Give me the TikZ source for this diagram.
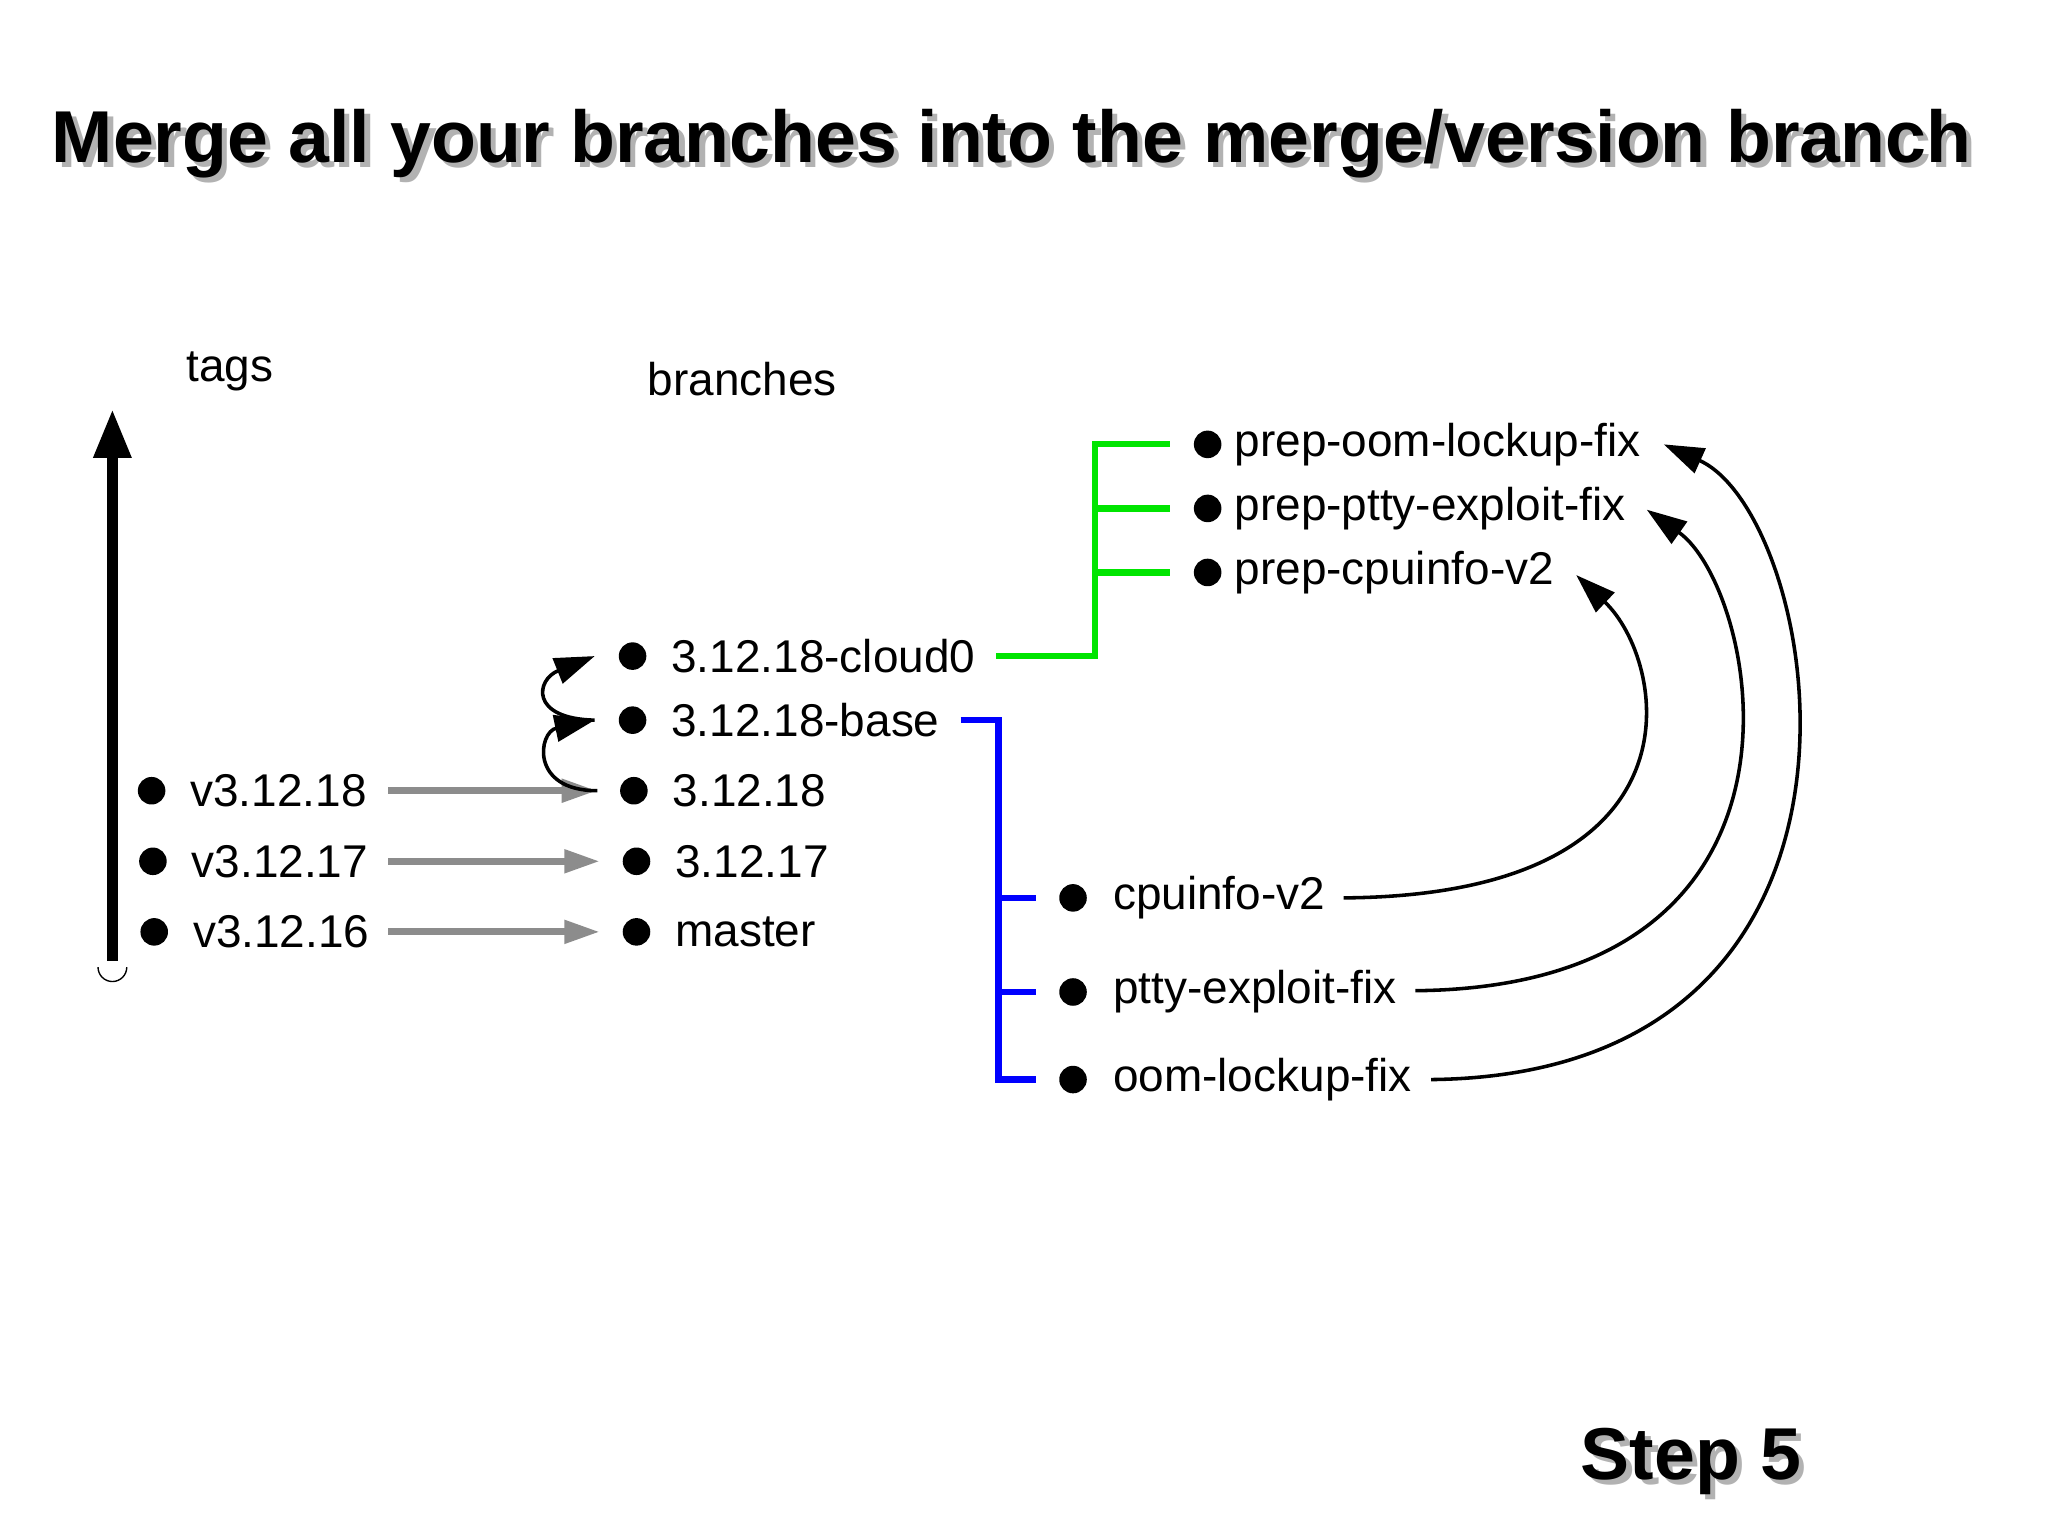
\documentclass[tikz,border=0pt]{standalone}
\usepackage{fontspec}
\setmainfont{Liberation Sans}
\usetikzlibrary{arrows.meta}
\begin{document}
\begin{tikzpicture}[x=0.1mm,y=-0.1mm,
  lbl/.style={anchor=west,inner sep=0pt,font=\fontsize{10}{12}\selectfont},
  dot/.style={circle,fill=black,inner sep=0pt,minimum size=6.2mm*0.34},
  garr/.style={draw=gray!90,line width=1.6mm*0.34,-{Triangle[width=5mm*0.34,length=8mm*0.34]}},
  carr/.style={draw=black,line width=0.8mm*0.34,-{Triangle[width=6mm*0.34,length=9mm*0.34]}},
  grn/.style={draw=green!90!black,line width=1.4mm*0.34},
  blu/.style={draw=blue,line width=1.4mm*0.34}]
\useasboundingbox (0,0) rectangle (1567,1174);
% title
\node[font=\bfseries\fontsize{16}{19}\selectfont,text=gray!60] at (778,114) {Merge all your branches into the merge/version branch};
\node[font=\bfseries\fontsize{16}{19}\selectfont] (title) at (774,110) {Merge all your branches into the merge/version branch};
\node[font=\bfseries\fontsize{16}{19}\selectfont,text=gray!60] at (1298,1122) {Step 5};
\node[font=\bfseries\fontsize{16}{19}\selectfont] (step) at (1294,1118) {Step 5};
\node[lbl] (tags) at (142,284) {tags};
\node[lbl] (branches) at (495,290) {branches};
% timeline
\coordinate (tb) at (86,735);
\coordinate (tt) at (86,313);
\draw[line width=2.4mm*0.34,-{Triangle[width=8mm*0.34,length=11mm*0.34]}] (tb) -- (tt);
\draw[line width=0.3pt] (75,740) arc (180:0:11);
% tags
\foreach \n/\x/\y/\t in {t18/116/605/v3.12.18,t17/117/659/v3.12.17,t16/118/713/v3.12.16}{
  \node[dot] (d\n) at (\x,\y) {};
  \node[lbl] (\n) at (\x+29,\y) {\t};
}
% branches
\foreach \n/\x/\y/\t in {bc/484/502/3.12.18-cloud0,bb/484/551/3.12.18-base,b18/485/605/3.12.18,b17/487/659/3.12.17,bm/487/713/master}{
  \node[dot] (d\n) at (\x,\y) {};
  \node[lbl] (\n) at (\x+29,\y) {\t};
}
\coordinate (g18s) at (297,605); \coordinate (g18e) at (457,605);
\coordinate (g17s) at (297,659); \coordinate (g17e) at (459,659);
\coordinate (g16s) at (297,713); \coordinate (g16e) at (459,713);
\draw[garr] (g18s) -- (g18e);
\draw[garr] (g17s) -- (g17e);
\draw[garr] (g16s) -- (g16e);
% curly arrows
\coordinate (c1) at (457,605); \coordinate (c2) at (455,551); \coordinate (c3) at (455,502);
\draw[carr] (c1) .. controls (405,605) and (412,560) .. (c2);
\draw[carr] (c2) .. controls (405,550) and (410,520) .. (c3);
% green tree
\coordinate (gs) at (762,502); \coordinate (gc) at (838,502); \coordinate (gt) at (838,340);
\draw[grn] (gs) -- (gc) -- (gt) -- (895,340);
\draw[grn] (838,389) -- (895,389);
\draw[grn] (838,438) -- (895,438);
\foreach \n/\y/\t in {po/340/prep-oom-lockup-fix,pp/389/prep-ptty-exploit-fix,pc/438/prep-cpuinfo-v2}{
  \node[dot] (d\n) at (924,\y) {};
  \node[lbl] (\n) at (944,\y) {\t};
}
% blue tree
\coordinate (bs) at (735,551); \coordinate (bc2) at (764,551); \coordinate (bbot) at (764,826);
\draw[blu] (bs) -- (bc2) -- (bbot) -- (793,826);
\draw[blu] (764,687) -- (793,687);
\draw[blu] (764,759) -- (793,759);
\foreach \n/\y/\t in {cu/687/cpuinfo-v2,pt/759/ptty-exploit-fix,oo/826/oom-lockup-fix}{
  \node[dot] (d\n) at (821,\y) {};
  \node[lbl] (\n) at (851,\y) {\t};
}
% merge curves
\coordinate (m1s) at (1028,687); \coordinate (m1e) at (1206,440);
\coordinate (m2s) at (1083,758); \coordinate (m2e) at (1260,390);
\coordinate (m3s) at (1095,826); \coordinate (m3e) at (1273,340);
\draw[carr] (m1s) .. controls (1310,685) and (1275,505) .. (m1e);
\draw[carr] (m2s) .. controls (1410,755) and (1345,450) .. (m2e);
\draw[carr] (m3s) .. controls (1470,822) and (1395,395) .. (m3e);
\end{tikzpicture}
\end{document}
